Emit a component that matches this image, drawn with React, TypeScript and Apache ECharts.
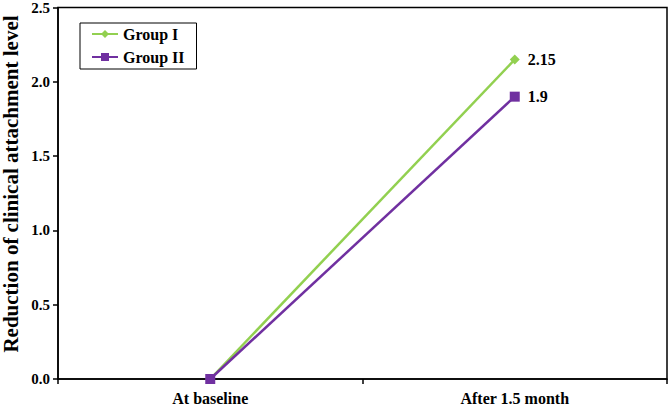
import React, { useEffect, useRef } from "react";
import * as echarts from "echarts";

const categories = ["At baseline", "After 1.5 month"];
const groupI = [0, 2.15];
const groupII = [0, 1.9];
const yTicks = { min: 0, max: 2.5, interval: 0.5 };
const yTitle = "Reduction of clinical attachment level";

const FONT = "'Liberation Serif', 'Times New Roman', serif";

function withEndLabel(values: number[]) {
  return values.map((v, i) =>
    i === values.length - 1
      ? {
          value: v,
          label: {
            show: true,
            position: "right",
            distance: 8,
            formatter: String(v),
            fontFamily: FONT,
            fontWeight: "bold",
            fontSize: 16,
            color: "#000",
          },
        }
      : v
  );
}

export default function App() {
  const ref = useRef<HTMLDivElement>(null);
  useEffect(() => {
    if (!ref.current) return;
    const chart = echarts.init(ref.current, undefined, { renderer: "svg" });
    chart.setOption({
      animation: false,
      backgroundColor: "#fff",
      textStyle: { fontFamily: FONT },
      grid: {
        left: 58,
        right: 2,
        top: 5.5,
        bottom: 25,
        containLabel: false,
        show: true,
        borderColor: "#000",
        borderWidth: 1.5,
        backgroundColor: "transparent",
      },
      graphic: [
        {
          type: "text",
          x: 11,
          y: 184,
          rotation: Math.PI / 2,
          style: {
            text: yTitle,
            fontFamily: FONT,
            fontWeight: "bold",
            fontSize: 21,
            fill: "#000",
            align: "center",
            verticalAlign: "middle",
          },
        },
      ],
      legend: {
        orient: "vertical",
        left: 80,
        top: 23,
        borderColor: "#000",
        borderWidth: 1,
        padding: [3, 12, 4, 11],
        itemGap: 7,
        itemWidth: 26,
        itemHeight: 10,
        textStyle: { fontFamily: FONT, fontWeight: "bold", fontSize: 16, color: "#000" },
        data: ["Group I", "Group II"],
      },
      xAxis: {
        type: "category",
        data: categories,
        boundaryGap: true,
        axisLine: { lineStyle: { color: "#000", width: 1.5 } },
        axisTick: { show: true, length: 5, lineStyle: { color: "#000", width: 1.5 } },
        axisLabel: {
          fontFamily: FONT,
          fontWeight: "bold",
          fontSize: 16,
          color: "#000",
          margin: 11,
        },
        splitLine: { show: false },
      },
      yAxis: {
        type: "value",
        min: yTicks.min,
        max: yTicks.max,
        interval: yTicks.interval,
        axisLine: { show: true, lineStyle: { color: "#000", width: 1.5 } },
        axisTick: { show: true, length: 5, lineStyle: { color: "#000", width: 1.5 } },
        axisLabel: {
          fontFamily: FONT,
          fontWeight: "bold",
          fontSize: 15,
          color: "#000",
          margin: 8,
          formatter: (v: number) => v.toFixed(1),
        },
        splitLine: { show: false },
      },
      series: [
        {
          name: "Group I",
          type: "line",
          data: withEndLabel(groupI),
          symbol: "diamond",
          symbolSize: 10,
          lineStyle: { color: "#92D050", width: 2.5 },
          itemStyle: { color: "#92D050" },
        },
        {
          name: "Group II",
          type: "line",
          data: withEndLabel(groupII),
          symbol: "rect",
          symbolSize: 10,
          lineStyle: { color: "#7030A0", width: 2.5 },
          itemStyle: { color: "#7030A0" },
        },
      ],
    });
    return () => chart.dispose();
  }, []);
  return <div ref={ref} style={{ width: 669, height: 406, position: "absolute", left: 0, top: 0 }} />;
}
